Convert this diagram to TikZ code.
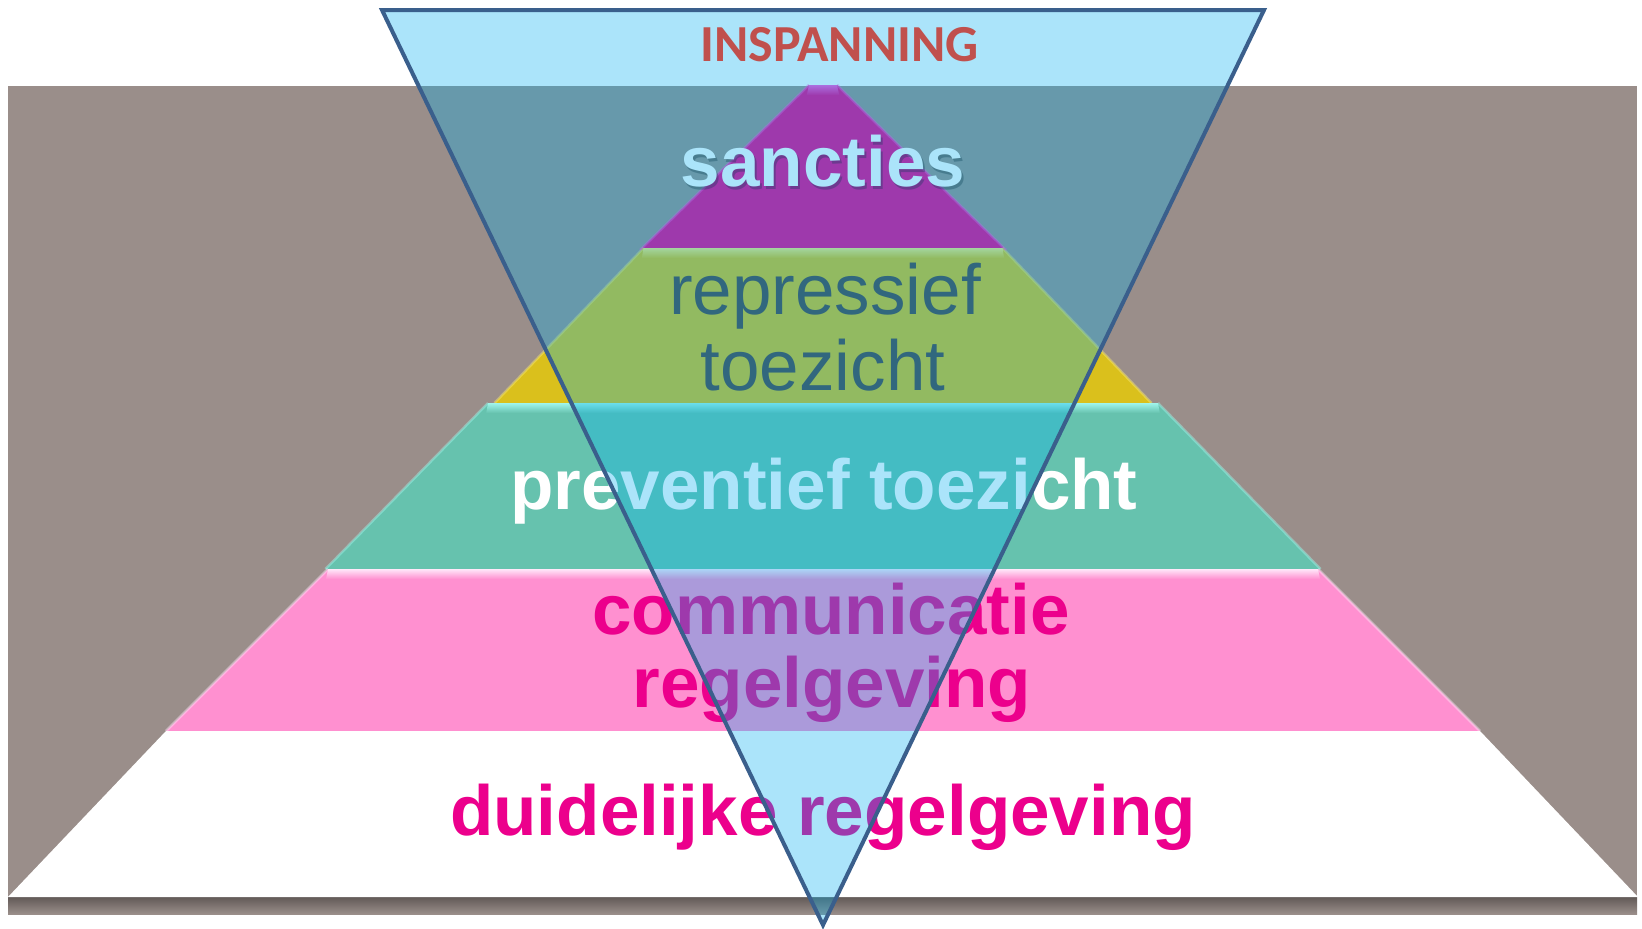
\documentclass[tikz,border=0pt]{standalone}
\usepackage{fontspec}
\setmainfont{Liberation Sans}
\newfontfamily\calibfont{Carlito}
\usetikzlibrary{calc}
\definecolor{graybg}{RGB}{154,142,138}
\definecolor{shadowdark}{RGB}{98,90,87}
\definecolor{layermag}{RGB}{236,0,140}
\definecolor{layermagL}{RGB}{255,80,216}
\definecolor{layeryel}{RGB}{218,192,28}
\definecolor{layeryelL}{RGB}{245,232,120}
\definecolor{layerteal}{RGB}{102,194,174}
\definecolor{layertealL}{RGB}{160,245,235}
\definecolor{layerpink}{RGB}{255,144,208}
\definecolor{layerpinkL}{RGB}{255,232,250}
\definecolor{textdark}{RGB}{74,68,70}
\definecolor{textmag}{RGB}{236,0,140}
\definecolor{inspred}{RGB}{192,80,77}
\definecolor{overlayblue}{RGB}{0,176,240}
\definecolor{navyline}{RGB}{58,95,140}
\newcommand{\pyrlayer}[7]{%
  \path[fill=#6] (823-#3,#2) coordinate (#1tl) -- (823+#3,#2) coordinate (#1tr)
     -- (823+#5,#4) coordinate (#1br) -- (823-#5,#4) coordinate (#1bl) -- cycle;
  \coordinate (#1trb) at ($(#1tr)!{10/(#4-#2)}!(#1br)$);
  \coordinate (#1tlb) at ($(#1tl)!{10/(#4-#2)}!(#1bl)$);
  \shade[top color=#7, bottom color=#6] (#1tl) -- (#1tr) -- ($(#1trb)+(-8,0)$) -- ($(#1tlb)+(8,0)$) -- cycle;
  \draw[#7, line width=2.5pt, opacity=0.45] (#1tl) -- (#1bl);
  \draw[#7, line width=2.5pt, opacity=0.45] (#1tr) -- (#1br);
}
\tikzset{
  lbl/.style={inner sep=0pt, anchor=base, font=\fontsize{71}{80}\selectfont},
  boldlbl/.style={lbl, font=\fontsize{71}{80}\selectfont\bfseries},
}
\begin{document}
\begin{tikzpicture}[x=1pt,y=-1pt]
\useasboundingbox (0,0) rectangle (1642,929);
\fill[white] (0,0) rectangle (1642,929);
% background panel
\fill[graybg] (8,86) rectangle (1637,913);
\shade[top color=shadowdark, bottom color=graybg] (8,897) rectangle (1637,914);
% pyramid layers (top to bottom)
\pyrlayer{sa}{85}{14}{250}{183}{layermag}{layermagL}
\pyrlayer{ye}{248}{179.5}{403}{328.5}{layeryel}{layeryelL}
\pyrlayer{te}{403}{335}{569}{497.5}{layerteal}{layertealL}
\pyrlayer{pi}{569}{495}{731}{657}{layerpink}{layerpinkL}
\path[fill=white] (823-657,731) coordinate (wtl) -- (823+657,731) coordinate (wtr)
   -- (823+815,897) coordinate (wbr) -- (823-815,897) coordinate (wbl) -- cycle;
% texts
\node[boldlbl, text=black, opacity=0.3] (sancshadow) at (825,189) {sancties};
\node[boldlbl, text=white] (sanc) at (823,186) {sancties};
\node[lbl, text=textdark] (rep1) at (825,314) {repressief};
\node[lbl, text=textdark] (rep2) at (823,390) {toezicht};
\node[boldlbl, text=white] (prev) at (824,509) {preventief toezicht};
\node[boldlbl, text=textmag] (comm) at (831,634) {communicatie};
\node[boldlbl, text=textmag] (regel) at (832,707) {regelgeving};
\node[boldlbl, text=textmag] (duid) at (823,835) {duidelijke regelgeving};
% inverted triangle overlay
\coordinate (otl) at (382,10);
\coordinate (otr) at (1264,10);
\coordinate (obot) at (823,925);
\filldraw[fill=overlayblue, fill opacity=0.33, draw=navyline, line width=4pt, line join=miter]
  (otl) -- (otr) -- (obot) -- cycle;
\node[inner sep=0pt, anchor=base, text=inspred, font=\fontsize{52}{60}\selectfont\calibfont\bfseries] (insp) at (839.5,61) {INSPANNING};
\end{tikzpicture}
\end{document}
